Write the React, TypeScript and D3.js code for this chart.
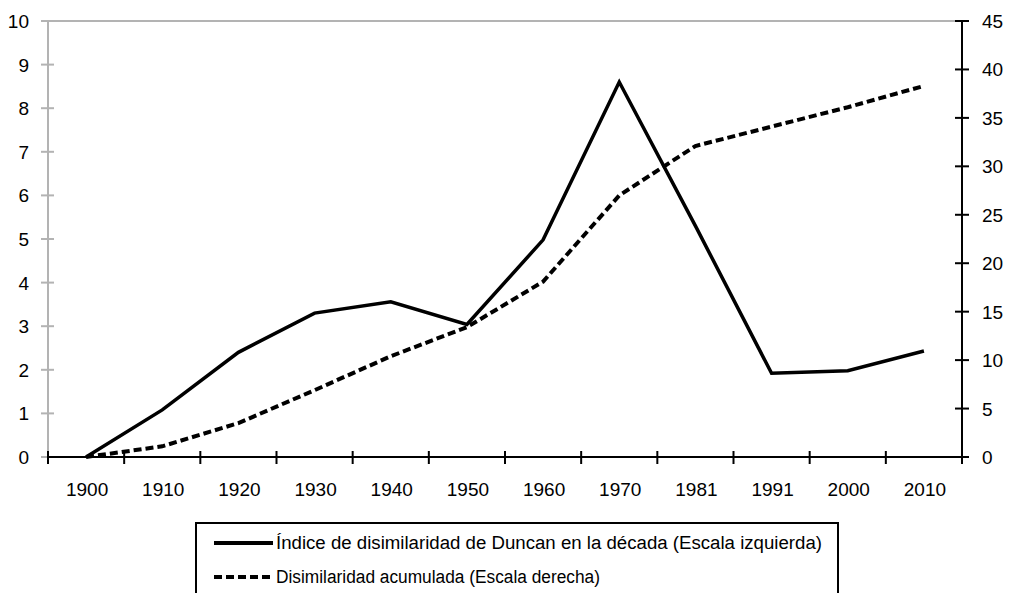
import * as d3 from 'd3'

const years = ['1900', '1910', '1920', '1930', '1940', '1950', '1960', '1970', '1981', '1991', '2000', '2010']
const duncan = [0, 1.08, 2.4, 3.3, 3.56, 3.04, 4.98, 8.6, 5.3, 1.92, 1.98, 2.43]
const acumulada = [0, 1.1, 3.5, 6.9, 10.4, 13.4, 18.1, 27.0, 32.1, 34.1, 36.1, 38.3]
const leftTicks = [0, 1, 2, 3, 4, 5, 6, 7, 8, 9, 10]
const rightTicks = [0, 5, 10, 15, 20, 25, 30, 35, 40, 45]

const W = 1009
const H = 593
const left = 48
const right = 962
const top = 21
const bottom = 457
const font = 'Liberation Sans, Arial, sans-serif'

export default function App() {
    const x = d3.scaleBand().domain(years).range([left, right])
    const yL = d3.scaleLinear().domain([0, 10]).range([bottom, top])
    const yR = d3.scaleLinear().domain([0, 45]).range([bottom, top])
    const cx = (d: string) => (x(d) ?? 0) + x.bandwidth() / 2

    const lineL = d3
        .line<number>()
        .x((d, i) => cx(years[i]))
        .y((d) => yL(d))
    const lineR = d3
        .line<number>()
        .x((d, i) => cx(years[i]))
        .y((d) => yR(d))

    const xTicks = years.map((d) => x(d) ?? 0).concat([right])

    return (
        <svg width={W} height={H} style={{ position: 'absolute', left: 0, top: 0, background: '#fff' }}>
            {/* top border */}
            <line x1={left} x2={right} y1={top} y2={top} stroke="#b3b3b3" strokeWidth={2} />
            {/* left axis, grey */}
            <line x1={left} x2={left} y1={top} y2={bottom} stroke="#b3b3b3" strokeWidth={2} />
            {leftTicks.map((t) => (
                <g key={'l' + t}>
                    <line x1={left - 7} x2={left + 6} y1={yL(t)} y2={yL(t)} stroke="#b3b3b3" strokeWidth={2} />
                    <text x={29} y={yL(t) + 7} textAnchor="end" fontFamily={font} fontSize={19} fill="#000">
                        {t}
                    </text>
                </g>
            ))}
            {/* right axis */}
            <line x1={right} x2={right} y1={top} y2={bottom} stroke="#000" strokeWidth={2} />
            {rightTicks.map((t) => (
                <g key={'r' + t}>
                    <line x1={right - 7} x2={right + 7} y1={yR(t)} y2={yR(t)} stroke="#000" strokeWidth={2} />
                    <text x={982} y={yR(t) + 7} fontFamily={font} fontSize={19} fill="#000">
                        {t}
                    </text>
                </g>
            ))}
            {/* x axis */}
            <line x1={left} x2={right} y1={bottom} y2={bottom} stroke="#000" strokeWidth={2} />
            {xTicks.map((t, i) => (
                <line key={'xt' + i} x1={t} x2={t} y1={bottom - 6} y2={bottom + 7} stroke="#000" strokeWidth={2} />
            ))}
            {years.map((d) => (
                <text key={'xl' + d} x={cx(d) + 1} y={496} textAnchor="middle" fontFamily={font} fontSize={19} fill="#000">
                    {d}
                </text>
            ))}
            {/* series */}
            <path d={lineR(acumulada) ?? ''} fill="none" stroke="#000" strokeWidth={4} strokeDasharray="8 4" />
            <path d={lineL(duncan) ?? ''} fill="none" stroke="#000" strokeWidth={3.5} strokeLinejoin="miter" />
            {/* legend */}
            <rect x={196} y={523} width={642} height={80} fill="#fff" stroke="#000" strokeWidth={2} />
            <line x1={214} x2={273} y1={543} y2={543} stroke="#000" strokeWidth={4} />
            <text x={276} y={549} fontFamily={font} fontSize={18} fill="#000" textLength={546} lengthAdjust="spacingAndGlyphs">
                Índice de disimilaridad de Duncan en la década (Escala izquierda)
            </text>
            <line x1={214} x2={273} y1={577} y2={577} stroke="#000" strokeWidth={4} strokeDasharray="8 4" />
            <text x={276} y={583} fontFamily={font} fontSize={18} fill="#000" textLength={324} lengthAdjust="spacingAndGlyphs">
                Disimilaridad acumulada (Escala derecha)
            </text>
        </svg>
    )
}
